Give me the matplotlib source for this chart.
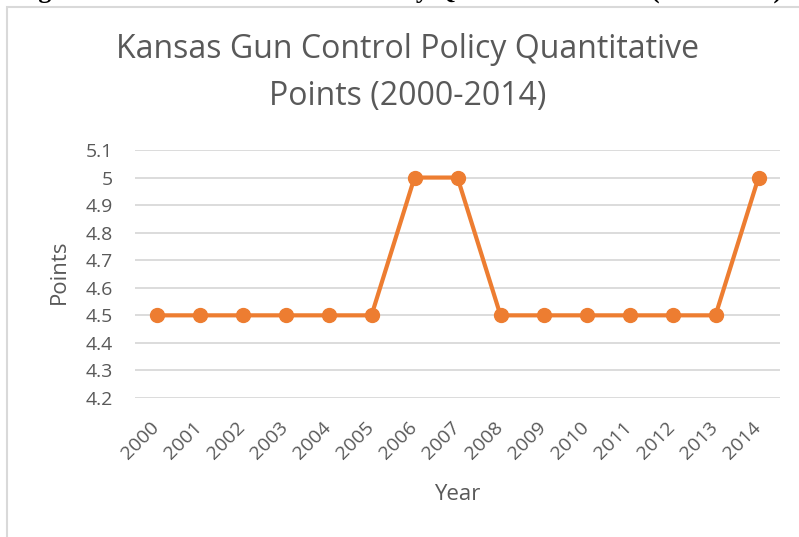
import matplotlib
matplotlib.use("Agg")
import matplotlib.pyplot as plt
from matplotlib.patches import Rectangle

years = ["2000", "2001", "2002", "2003", "2004", "2005", "2006", "2007",
         "2008", "2009", "2010", "2011", "2012", "2013", "2014"]
points = [4.5, 4.5, 4.5, 4.5, 4.5, 4.5, 5, 5, 4.5, 4.5, 4.5, 4.5, 4.5, 4.5, 5]
yticks = [4.2, 4.3, 4.4, 4.5, 4.6, 4.7, 4.8, 4.9, 5, 5.1]
ytick_labels = ["4.2", "4.3", "4.4", "4.5", "4.6", "4.7", "4.8", "4.9", "5", "5.1"]

W, H = 799, 537
gray = "#595959"
plt.rcParams['font.family'] = ['Open Sans', 'DejaVu Sans']

fig = plt.figure(figsize=(W / 100, H / 100), dpi=100)

# chart frame (cut off on the right and bottom)
fig.patches.append(Rectangle((7 / W, -0.1), 1.2, 1.1 - 7 / H, transform=fig.transFigure,
                             fill=False, edgecolor="#D9D9D9", linewidth=1.5))

# caption of the document, cut by the top edge
fig.text(15 / W, 1 + 2 / H, "Figure 4: Kansas Gun Control Policy Quantitative Score (2000-2014)",
         family="Liberation Serif", weight="bold", fontsize=18.8, va="baseline", ha="left")

ax = fig.add_axes([135 / W, 1 - 398 / H, 645 / W, 248 / H])
x = list(range(len(years)))
ax.plot(x, points, color="#ED7D31", linewidth=3, marker="o", markersize=10, zorder=3)
ax.set_xlim(-0.5, len(years) - 0.5)
ax.set_ylim(4.2, 5.1)
ax.set_yticks(yticks)
ax.set_yticklabels(ytick_labels)
ax.set_xticks(x)
ax.set_xticklabels(years, rotation=45, ha="right", va="center", rotation_mode="anchor")
ax.grid(axis="y", color="#D9D9D9", linewidth=1.3)
ax.set_axisbelow(True)
for s in ax.spines.values():
    s.set_visible(False)
ax.tick_params(axis="y", length=0, pad=16, labelsize=14, labelcolor=gray)
ax.tick_params(axis="x", length=0, pad=19, labelsize=14, labelcolor=gray)

fig.text(408 / W, 1 - 50 / H, "Kansas Gun Control Policy Quantitative", ha="center", va="center",
         fontsize=23, color=gray)
fig.text(408 / W, 1 - 97 / H, "Points (2000-2014)", ha="center", va="center",
         fontsize=23, color=gray)
fig.text(457 / W, 1 - 495 / H, "Year", ha="center", va="center", fontsize=16, color=gray)
fig.text(59 / W, 1 - 272 / H, "Points", ha="center", va="center", rotation=90,
         fontsize=16, color=gray)

fig.savefig("out.png", dpi=100)
